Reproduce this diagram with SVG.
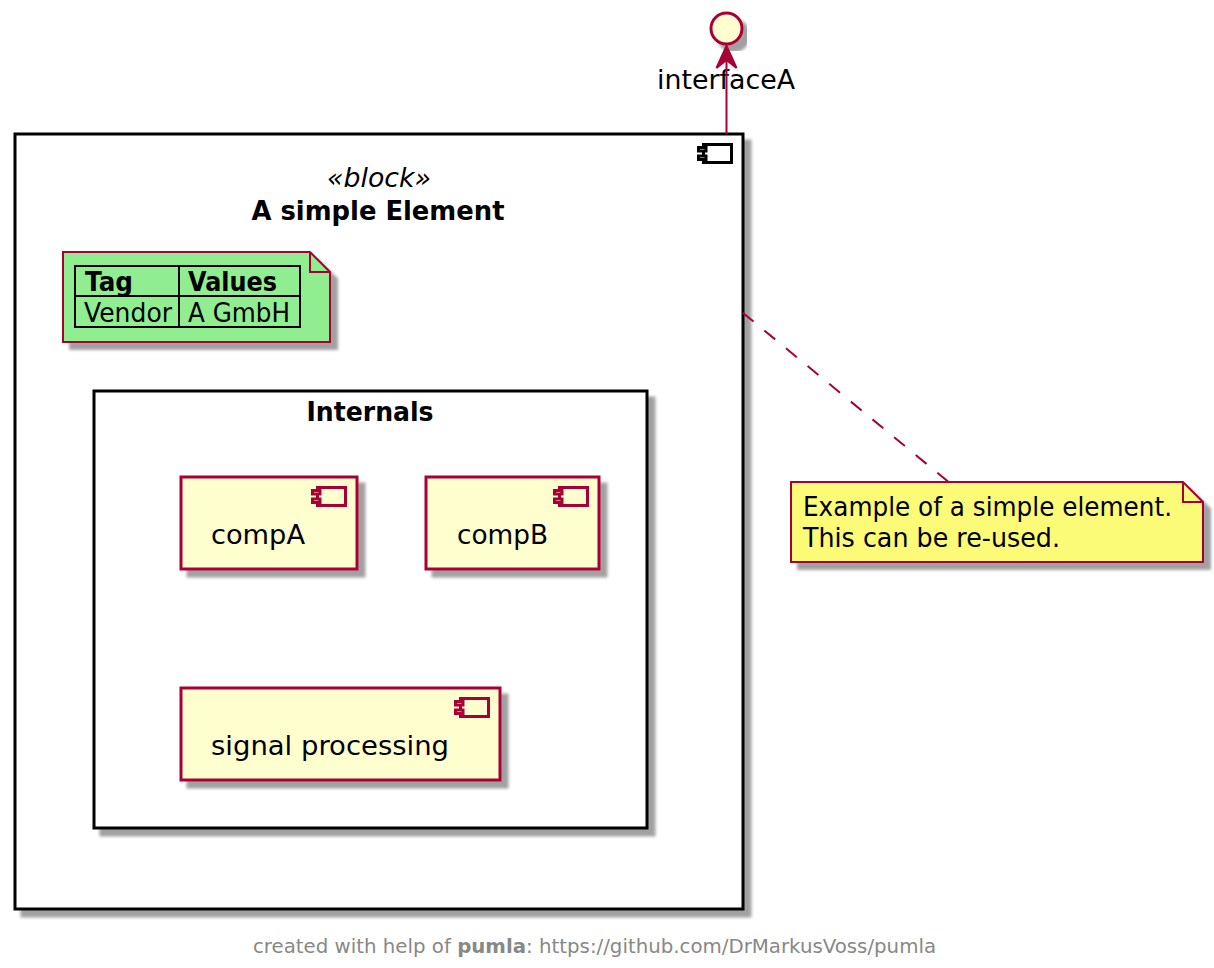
<svg xmlns="http://www.w3.org/2000/svg" width="1214" height="968" viewBox="0 0 1214 968">
<style>
text{font-family:"DejaVu Sans","Liberation Sans",sans-serif;fill:#000}
.t{font-size:26px}
.b{font-weight:bold}
.box{fill:#fff;stroke:#000;stroke-width:3}
.comp{fill:#FEFECE;stroke:#A80036;stroke-width:3}
.icon{stroke:#A80036;stroke-width:3;fill:#FEFECE}
.bicon{stroke:#000;stroke-width:3;fill:#fff}
.note{stroke:#A80036;stroke-width:2}
.fold{fill:none;stroke:#A80036;stroke-width:2}
.line{stroke:#A80036;stroke-width:2;fill:none}
.cell{stroke:#000;stroke-width:2;fill:none}
</style>
<defs>
<filter id="sh" x="-10%" y="-10%" width="125%" height="130%">
<feGaussianBlur in="SourceAlpha" stdDeviation="1.800"/>
<feOffset dx="6.500" dy="6.500"/>
<feComponentTransfer><feFuncA type="linear" slope="0.37"/></feComponentTransfer>
<feMerge><feMergeNode/><feMergeNode in="SourceGraphic"/></feMerge>
</filter>
<g id="cicon">
<rect x="5" y="0" width="28" height="18"/>
<rect x="0" y="3" width="7.500" height="3.500"/>
<rect x="0" y="11.500" width="7.500" height="3.500"/>
</g>
</defs>
<g id="block">
<rect class="box" x="15" y="134" width="728" height="775" filter="url(#sh)"/>
<use href="#cicon" x="698.500" y="144.500" class="bicon"/>
<text x="379" y="187" text-anchor="middle" font-size="26" font-style="italic" textLength="104" lengthAdjust="spacingAndGlyphs">«block»</text>
<text x="378" y="220" text-anchor="middle" font-size="26" class="b" textLength="253" lengthAdjust="spacingAndGlyphs">A simple Element</text>
</g>
<g id="internals">
<rect class="box" x="94" y="391" width="553" height="437" filter="url(#sh)"/>
<text x="370" y="421" text-anchor="middle" font-size="26" class="b" textLength="127" lengthAdjust="spacingAndGlyphs">Internals</text>
</g>
<g id="tagnote">
<path class="note" fill="#90EE90" filter="url(#sh)" d="M63 252H310L330 272V342H63Z"/>
<path class="fold" d="M310 252V272H330"/>
<rect class="cell" x="75" y="266" width="225" height="61"/>
<path class="cell" d="M75 296H300M179 266V327"/>
<text x="85" y="291" font-size="26" class="b" textLength="48" lengthAdjust="spacingAndGlyphs">Tag</text>
<text x="188" y="291" font-size="26" class="b" textLength="89" lengthAdjust="spacingAndGlyphs">Values</text>
<text x="84" y="322" font-size="26" textLength="88" lengthAdjust="spacingAndGlyphs">Vendor</text>
<text x="188" y="322" font-size="26" textLength="102" lengthAdjust="spacingAndGlyphs">A GmbH</text>
</g>
<g id="compA">
<rect class="comp" x="181" y="477" width="176" height="92" filter="url(#sh)"/>
<use href="#cicon" x="312.500" y="487.500" class="icon"/>
<text x="211" y="544" class="t" textLength="94" lengthAdjust="spacingAndGlyphs">compA</text>
</g>
<g id="compB">
<rect class="comp" x="426" y="477" width="173" height="92" filter="url(#sh)"/>
<use href="#cicon" x="554.500" y="487.500" class="icon"/>
<text x="457" y="544" class="t" textLength="91" lengthAdjust="spacingAndGlyphs">compB</text>
</g>
<g id="signal">
<rect class="comp" x="181" y="688" width="319" height="92" filter="url(#sh)"/>
<use href="#cicon" x="455.500" y="698.500" class="icon"/>
<text x="211" y="755" class="t" textLength="238" lengthAdjust="spacingAndGlyphs">signal processing</text>
</g>
<g id="interfaceA">
<circle class="comp" cx="726.500" cy="28.500" r="15.500" filter="url(#sh)"/>
<text x="726" y="89" text-anchor="middle" class="t" textLength="138" lengthAdjust="spacingAndGlyphs">interfaceA</text>
</g>
<g id="noteA">
<path class="note" fill="#FBFB77" filter="url(#sh)" d="M791 482H1183L1203 502V562H791Z"/>
<path class="fold" d="M1183 482V502H1203"/>
<text x="803" y="516" class="t" textLength="369" lengthAdjust="spacingAndGlyphs">Example of a simple element.</text>
<text x="803" y="547" class="t" textLength="257" lengthAdjust="spacingAndGlyphs">This can be re-used.</text>
</g>
<g id="connectors">
<path class="line" d="M726.500 134V60"/>
<path d="M726.500 46L736.500 68L726.500 60L716.500 68Z" fill="#A80036" stroke="#A80036" stroke-width="2"/>
<path class="line" stroke-dasharray="14 14" d="M742.700 312.700L948 481.500"/>
</g>
<g id="footer">
<text x="253" y="953" font-size="20" style="fill:#888" textLength="683" lengthAdjust="spacingAndGlyphs">created with help of <tspan font-weight="bold">pumla</tspan>: https://github.com/DrMarkusVoss/pumla</text>
</g>
</svg>
